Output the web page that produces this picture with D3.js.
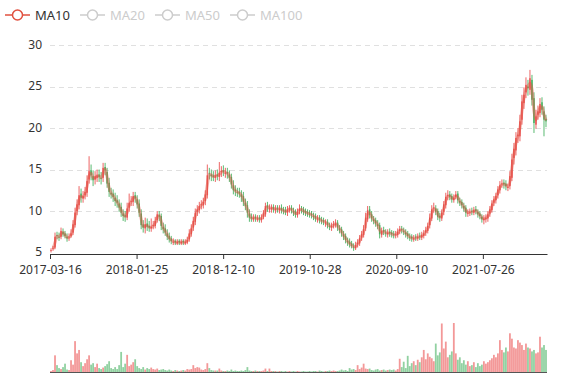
<!DOCTYPE html>
<html><head><meta charset="utf-8">
<script src="https://cdn.jsdelivr.net/npm/d3@7"></script>
<style>html,body{margin:0;padding:0;background:#fff;}svg{display:block;font-family:"Noto Sans",sans-serif;}</style>
</head><body><svg id="c" width="577" height="380"></svg>
<script>
// ---- data (sampled every 5 trading days; 1240 trading days in total) ----
const totalDays = 1240;
const step = 5;
const tickLabels = ["2017-03-16","2018-01-25","2018-12-10","2019-10-28","2020-09-10","2021-07-26"];
const tickIndex = [0,216,432,648,864,1080];
const yTicks = [5,10,15,20,25,30];
const legendNames = ["MA10","MA20","MA50","MA100"];
const legendActive = [true,false,false,false];

const open = [5.2,5.4,5.6,7.1,6.9,6.9,7.5,7.3,6.9,6.8,
7.0,7.4,8.3,10.0,10.7,12.1,11.5,11.9,12.2,13.8,
14.9,14.2,13.8,14.0,14.4,14.0,14.0,15.3,14.7,13.4,
12.2,12.1,11.6,11.3,10.9,10.5,9.7,9.5,9.2,10.4,
11.1,11.1,11.9,11.4,10.9,9.7,8.4,7.9,8.5,8.2,
7.9,8.2,8.2,8.9,9.5,9.4,8.1,7.9,7.3,7.0,
6.7,6.3,6.4,6.1,6.4,6.1,6.4,6.1,6.2,6.6,
7.2,8.0,8.7,9.9,10.1,10.7,10.7,11.2,11.9,14.6,
14.4,14.3,14.0,14.4,14.1,14.7,14.9,14.6,14.7,14.4,
14.1,13.1,12.6,12.3,12.3,12.0,11.8,11.0,10.7,9.7,
9.3,9.0,9.3,9.0,9.2,8.9,9.3,9.6,10.7,10.3,
10.2,10.5,10.1,10.4,10.1,10.4,10.2,10.1,9.8,10.2,
10.4,10.0,9.9,9.5,10.0,10.2,10.2,10.0,9.9,9.7,
9.7,9.4,9.4,9.0,9.2,8.9,8.9,8.5,8.7,8.2,
8.0,8.3,8.3,8.6,7.9,7.8,7.2,7.0,6.4,6.3,
6.1,5.7,5.5,6.0,6.1,6.8,7.1,7.9,9.0,10.2,
9.6,9.0,8.9,8.4,8.3,7.1,7.7,7.4,7.2,7.5,
7.4,7.2,7.1,7.1,7.6,7.8,7.6,7.4,7.3,6.9,
6.9,6.6,6.9,6.7,7.0,6.8,7.0,7.4,7.6,8.3,
9.1,10.3,10.3,10.0,9.4,9.1,9.9,10.7,11.8,12.0,
11.8,11.3,11.7,12.1,11.2,11.1,10.6,10.4,9.7,9.8,
10.0,9.8,10.2,9.9,9.7,9.3,8.9,9.0,9.1,9.7,
10.1,11.0,11.3,11.9,12.5,13.2,13.4,13.3,12.8,13.0,
14.0,16.4,17.3,19.0,19.0,21.0,23.0,24.3,25.0,24.6,
25.8,23.6,20.4,21.6,21.8,23.1,22.0,21.1];
const close = [5.3,5.5,6.9,7.0,6.8,7.6,7.2,7.0,6.7,6.9,
7.3,8.4,9.8,10.8,11.9,11.6,11.8,12.3,13.6,14.8,
14.3,13.7,14.2,14.3,14.1,13.9,15.2,14.9,13.3,12.3,
12.0,11.7,11.2,11.0,10.4,9.8,9.4,9.3,10.3,11.0,
11.2,11.8,11.5,10.8,9.8,8.3,8.0,8.4,8.1,8.0,
8.1,8.3,8.8,9.6,9.3,8.2,7.8,7.4,6.9,6.6,
6.4,6.3,6.2,6.3,6.2,6.3,6.2,6.3,6.5,7.3,
7.9,8.8,9.8,10.2,10.6,10.8,11.1,12.0,14.3,14.5,
14.2,14.1,14.3,14.2,14.6,14.8,14.7,14.6,14.5,14.0,
13.2,12.5,12.4,12.2,12.1,11.7,11.1,10.6,9.8,9.2,
9.1,9.2,9.1,9.1,9.0,9.2,9.7,10.6,10.4,10.3,
10.4,10.2,10.3,10.2,10.3,10.1,10.0,9.9,10.2,10.3,
10.1,9.8,9.6,9.9,10.3,10.1,9.9,9.8,9.7,9.6,
9.5,9.3,9.1,9.1,8.9,8.8,8.7,8.6,8.3,8.1,
8.2,8.4,8.5,8.0,7.7,7.3,6.9,6.5,6.2,6.0,
5.8,5.6,5.9,6.2,6.7,7.2,7.8,9.2,10.1,9.5,
9.1,8.8,8.5,8.2,7.2,7.6,7.5,7.3,7.4,7.3,
7.2,7.1,7.2,7.5,7.8,7.7,7.5,7.2,7.0,6.8,
6.7,6.7,6.8,6.9,6.9,7.1,7.3,7.7,8.2,9.2,
10.2,10.4,9.9,9.3,9.2,9.8,10.8,11.7,11.9,11.7,
11.4,11.6,12.0,11.3,11.0,10.7,10.3,9.8,9.8,9.9,
9.9,10.1,10.0,9.6,9.4,9.0,9.1,9.2,9.6,10.2,
10.9,11.4,11.8,12.6,13.1,13.3,13.2,13.0,12.9,14.2,
16.2,17.5,18.8,19.2,20.8,23.2,24.0,25.2,24.8,26.0,
23.4,20.6,21.4,22.0,22.9,22.2,21.0,20.8];
const high = [5.5,5.8,7.4,7.5,7.4,8.0,7.9,7.6,7.3,7.3,
7.8,8.9,10.4,11.4,13.0,12.7,12.4,12.9,14.3,16.6,
15.6,14.9,14.8,15.0,15.0,14.7,15.8,15.8,15.2,14.0,
12.8,12.6,12.2,11.9,11.4,11.0,10.2,10.0,11.0,12.1,
11.8,12.3,12.3,11.9,11.4,10.2,8.9,9.2,9.1,8.8,
9.1,8.8,9.3,10.0,10.0,9.7,8.6,8.4,7.8,7.4,
7.0,6.7,6.6,6.6,6.6,6.6,6.6,6.6,6.9,7.8,
8.4,9.3,10.3,10.7,11.1,11.3,11.6,12.5,15.6,15.2,
15.0,14.8,14.9,15.0,15.9,15.4,15.5,15.2,15.2,14.9,
14.5,13.7,13.1,12.8,12.8,12.5,12.3,11.5,11.2,10.2,
9.7,9.6,9.6,9.5,9.5,9.6,10.1,11.0,11.1,10.8,
10.8,10.8,10.7,10.7,10.7,10.8,10.5,10.5,10.6,10.7,
10.7,10.4,10.2,10.3,10.8,10.6,10.5,10.3,10.2,10.1,
10.0,9.8,9.7,9.5,9.5,9.3,9.2,9.0,9.0,8.6,
8.6,8.8,9.0,8.9,8.3,8.1,7.6,7.3,6.8,6.7,
6.4,6.1,6.3,6.6,7.1,7.6,8.3,9.8,10.6,10.6,
10.0,9.4,9.2,8.9,8.6,8.0,8.1,7.8,7.8,7.9,
7.7,7.6,7.6,7.9,8.2,8.2,8.0,7.8,7.6,7.3,
7.2,7.1,7.2,7.3,7.4,7.5,7.7,8.1,8.6,9.7,
10.7,11.0,10.7,10.3,9.8,10.2,11.2,12.2,12.5,12.4,
12.1,12.0,12.4,12.4,11.6,11.4,11.0,10.7,10.2,10.3,
10.4,10.5,10.6,10.2,10.0,9.6,9.5,9.6,10.0,10.6,
11.3,11.8,12.2,13.0,13.6,13.8,13.8,13.7,13.3,14.8,
16.9,18.2,19.5,20.0,21.6,24.0,24.9,26.1,25.8,27.0,
26.4,24.3,22.2,22.7,23.6,23.7,22.6,21.6];
const low = [5.0,5.2,5.4,6.6,6.4,6.6,6.9,6.7,6.3,6.4,
6.8,7.1,8.0,9.5,10.2,11.0,11.0,11.4,11.7,13.3,
13.7,13.0,13.2,13.5,13.5,13.2,13.5,14.3,12.8,11.7,
11.5,11.1,10.6,10.4,9.9,9.3,8.8,8.7,8.9,9.9,
10.6,10.6,11.0,10.3,9.3,7.8,7.4,7.3,7.6,7.5,
7.5,7.8,7.9,8.6,8.8,7.7,7.3,7.0,6.5,6.2,
6.0,5.9,5.9,5.9,5.9,5.9,5.9,5.9,6.0,6.3,
6.9,7.6,8.3,9.4,9.7,10.2,10.3,10.7,11.5,13.8,
13.6,13.6,13.5,13.7,13.6,14.1,14.2,14.0,13.9,13.5,
12.7,12.0,11.8,11.7,11.6,11.1,10.6,10.1,9.2,8.7,
8.7,8.7,8.7,8.7,8.6,8.6,9.0,9.3,9.9,9.8,
9.8,9.8,9.7,9.8,9.7,9.7,9.6,9.5,9.4,9.8,
9.7,9.4,9.2,9.2,9.6,9.7,9.5,9.4,9.3,9.2,
9.1,8.9,8.7,8.6,8.5,8.4,8.3,8.1,7.9,7.7,
7.6,7.9,8.0,7.6,7.3,6.9,6.5,6.1,5.8,5.6,
5.5,5.2,5.3,5.6,5.8,6.4,6.8,7.6,8.7,9.1,
8.7,8.4,8.1,7.8,6.7,6.8,7.1,6.9,6.8,6.9,
6.8,6.7,6.7,6.8,7.2,7.3,7.1,6.8,6.6,6.4,
6.3,6.3,6.4,6.4,6.5,6.5,6.7,7.0,7.3,7.9,
8.8,9.8,9.5,8.9,8.7,8.8,9.5,10.3,11.3,11.3,
11.0,11.0,11.4,10.9,10.6,10.3,9.9,9.3,9.3,9.4,
9.5,9.5,9.6,9.2,9.0,8.6,8.4,8.6,8.7,9.3,
9.8,10.6,10.9,11.5,12.1,12.8,12.7,12.5,12.4,12.6,
13.6,15.6,16.7,18.2,18.4,20.4,22.3,23.6,23.9,24.0,
22.7,19.4,19.9,21.0,21.3,21.6,19.0,20.1];
const volume = [2,4,34,14,8,6,10,17,5,4,
24,15,63,38,45,20,12,18,26,34,
15,18,10,17,8,6,9,12,16,22,
8,6,10,6,14,41,10,17,35,12,
15,20,26,12,8,6,10,5,8,6,
9,6,5,7,4,5,6,4,3,5,
3,2,4,3,2,3,4,3,6,5,
6,14,8,10,9,5,4,6,18,8,
4,3,3,3,7,3,2,2,3,2,
5,2,3,2,2,3,2,4,10,3,
2,2,3,2,2,2,3,7,2,7,
2,2,2,1,2,2,1,2,1,2,
1,2,1,2,1,1,2,1,1,2,
1,2,2,1,3,2,1,2,2,3,
2,3,2,2,3,5,3,4,2,8,
5,6,4,14,6,9,17,7,6,7,
4,3,5,6,3,4,5,3,4,5,
4,5,3,6,27,10,21,8,33,12,
18,22,14,25,20,30,45,26,38,31,
28,22,58,34,40,99,48,62,30,35,
42,100,38,25,30,18,24,15,22,12,
14,20,10,18,12,15,22,17,20,24,
28,35,30,38,65,45,40,50,42,79,
68,50,48,65,60,55,45,58,50,48,
42,45,38,40,72,50,55,45];

const maDays = 10;

// ---- layout ----
const grid = {left: 50, right: 547, top: 45, bottom: 254};
const vgrid = {top: 323, bottom: 372};
const upColor = "#eb5454", downColor = "#47b262";
const maColor = "#e0503f";

const svg = d3.select("#c");
const x = d3.scaleLinear().domain([0, totalDays]).range([grid.left, grid.right]);
const y = d3.scaleLinear().domain([4.82, 30]).range([grid.bottom, grid.top]);
const yv = d3.scaleLinear().domain([0, d3.max(volume)]).range([vgrid.bottom, vgrid.top]);

const data = close.map((c, i) => ({i, o: open[i], c, h: high[i], l: low[i], v: volume[i]}));
const cx = d => x(d.i * step + step / 2);
const col = d => d.c >= d.o ? upColor : downColor;

// y axis labels + dashed split lines
const yAxis = d3.axisLeft(y).tickValues(yTicks).tickSize(0).tickPadding(8);
const gy = svg.append("g").attr("transform", `translate(${grid.left},0)`).call(yAxis);
gy.select(".domain").remove();
gy.selectAll("text").attr("fill", "#333").attr("dy", "0.25em")
  .style("font-size", "12px").style("font-family", "'Noto Sans',sans-serif");
svg.append("g").selectAll("line").data(yTicks.filter(t => t > 5)).join("line")
  .attr("x1", grid.left).attr("x2", grid.right)
  .attr("y1", d => Math.round(y(d)) + 0.5).attr("y2", d => Math.round(y(d)) + 0.5)
  .attr("stroke", "#e0e0e0").attr("stroke-dasharray", "5,4");

// candles
const cg = svg.append("g");
const bw = 1.5;
cg.selectAll("line.w").data(data).join("line")
  .attr("x1", cx).attr("x2", cx)
  .attr("y1", d => y(d.h)).attr("y2", d => y(d.l))
  .attr("stroke", col).attr("stroke-width", 0.9);
cg.selectAll("rect").data(data).join("rect")
  .attr("x", d => cx(d) - bw / 2).attr("width", bw)
  .attr("y", d => y(Math.max(d.o, d.c)))
  .attr("height", d => Math.max(0.8, Math.abs(y(d.o) - y(d.c))))
  .attr("fill", col);

// MA10 line
const win = Math.max(1, Math.round(maDays / step));
const ma = data.map((d, i) => i < win - 1 ? null : {i: d.i, v: d3.mean(close.slice(i - win + 1, i + 1))}).filter(Boolean);
svg.append("path").datum(ma)
  .attr("d", d3.line().x(cx).y(d => y(d.v)).curve(d3.curveMonotoneX))
  .attr("fill", "none").attr("stroke", maColor).attr("stroke-width", 3).attr("stroke-opacity", 0.45);

// x axis
const xAxis = d3.axisBottom(x).tickValues(tickIndex).tickFormat((d, k) => tickLabels[k]).tickSize(5).tickPadding(6).tickSizeOuter(0);
const gx = svg.append("g").attr("transform", `translate(0,${grid.bottom})`).call(xAxis);
gx.select(".domain").attr("stroke", "#333");
gx.selectAll(".tick line").attr("stroke", "#333");
gx.selectAll("text").attr("fill", "#333").style("font-size", "12px").style("font-family", "'Noto Sans',sans-serif");

// volume
svg.append("g").selectAll("rect").data(data).join("rect")
  .attr("x", d => cx(d) - 0.9).attr("width", 1.8)
  .attr("y", d => yv(d.v)).attr("height", d => vgrid.bottom - yv(d.v))
  .attr("fill", col).attr("fill-opacity", 0.6);
svg.append("line").attr("x1", grid.left).attr("x2", grid.right)
  .attr("y1", vgrid.bottom + 0.5).attr("y2", vgrid.bottom + 0.5).attr("stroke", "#555");

// legend
const lg = svg.append("g").selectAll("g").data(legendNames).join("g")
  .attr("transform", (d, k) => `translate(${5 + k * 75},15)`);
lg.append("line").attr("x1", 0).attr("x2", 25).attr("y1", 0).attr("y2", 0)
  .attr("stroke", (d, k) => legendActive[k] ? maColor : "#ccc").attr("stroke-width", 1.5);
lg.append("circle").attr("cx", 12.5).attr("cy", 0).attr("r", 5)
  .attr("fill", "#fff").attr("stroke", (d, k) => legendActive[k] ? maColor : "#ccc").attr("stroke-width", 1.5);
lg.append("text").attr("x", 30).attr("y", 0).attr("dy", "0.35em")
  .attr("fill", (d, k) => legendActive[k] ? "#333" : "#ccc")
  .style("font-size", "13px").text(d => d);
</script></body></html>
